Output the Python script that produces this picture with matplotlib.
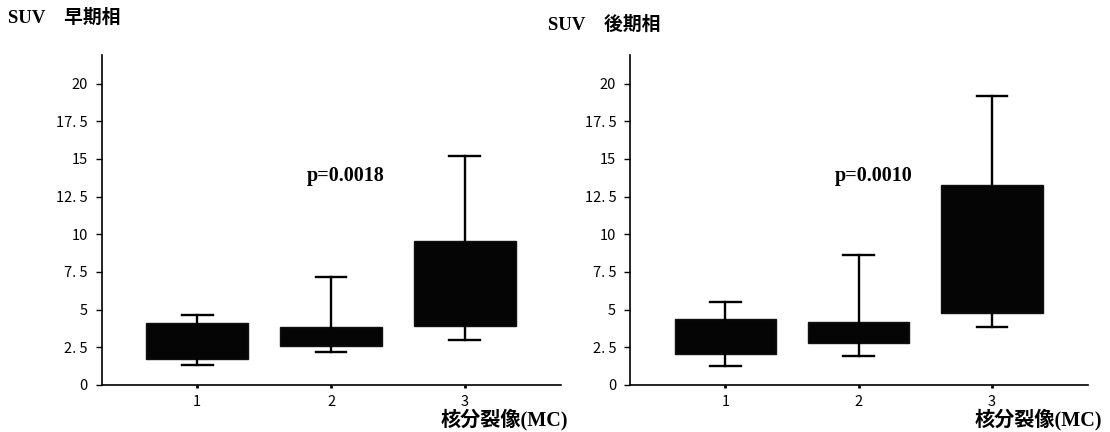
import matplotlib
matplotlib.use("Agg")
import matplotlib.pyplot as plt

# 核分裂像(MC) グループごとの SUV 箱ひげ図
groups = [1, 2, 3]

# 早期相
early_q1 = [1.72, 2.59, 3.93]
early_q3 = [4.11, 3.87, 9.57]
early_lo = [1.33, 2.17, 3.00]
early_hi = [4.64, 7.20, 15.20]

# 後期相
late_q1 = [2.04, 2.82, 4.77]
late_q3 = [4.39, 4.17, 13.26]
late_lo = [1.29, 1.95, 3.84]
late_hi = [5.50, 8.63, 19.16]

yticks = [0, 2.5, 5, 7.5, 10, 12.5, 15, 17.5, 20]
ytick_labels = ["0", "2. 5", "5", "7. 5", "10", "12. 5", "15", "17. 5", "20"]

titles = ["SUV　早期相", "SUV　後期相"]
p_texts = ["p=0.0018", "p=0.0010"]
xlabel = "核分裂像(MC)"

serif_jp = ["Liberation Serif", "Noto Sans CJK JP"]
gothic = ["Noto Sans CJK JP", "DejaVu Sans"]

fig = plt.figure(figsize=(11.1, 4.32), dpi=100)
ax1 = fig.add_axes([0.0916, 0.1088, 0.4138, 0.7639])
ax2 = fig.add_axes([0.5676, 0.1088, 0.4126, 0.7639])


def make_stats(q1, q3, lo, hi):
    stats = []
    for a, b, c, d in zip(q1, q3, lo, hi):
        stats.append({"q1": a, "q3": b, "med": a, "whislo": c, "whishi": d, "fliers": []})
    return stats


def draw_panel(ax, q1, q3, lo, hi, p_text):
    ax.bxp(make_stats(q1, q3, lo, hi), positions=groups, widths=0.76,
           patch_artist=True, showfliers=False, capwidths=0.23,
           boxprops=dict(facecolor="#050505", edgecolor="#111111", linewidth=1.0),
           whiskerprops=dict(color="black", linewidth=1.7),
           capprops=dict(color="black", linewidth=1.7),
           medianprops=dict(linewidth=0))
    ax.set_xlim(0.285, 3.72)
    ax.set_ylim(0, 21.9)
    ax.set_yticks(yticks)
    ax.set_yticklabels(ytick_labels, family=gothic, fontsize=10.5)
    ax.set_xticks(groups)
    ax.set_xticklabels([str(g) for g in groups], family=gothic, fontsize=10.5)
    ax.tick_params(axis="y", length=4, width=1, pad=6)
    ax.tick_params(axis="x", length=2, width=2, pad=5)
    for side in ["top", "right"]:
        ax.spines[side].set_visible(False)
    for side in ["left", "bottom"]:
        ax.spines[side].set_linewidth(1.2)
    ax.text(1.82, 13.9, p_text, family="Liberation Serif", fontweight="bold",
            fontsize=14.5, ha="left", va="center")


draw_panel(ax1, early_q1, early_q3, early_lo, early_hi, p_texts[0])
draw_panel(ax2, late_q1, late_q3, late_lo, late_hi, p_texts[1])

fig.text(8 / 1110, 1 - 18 / 432, titles[0], family=serif_jp, fontweight="bold",
         fontsize=13.5, ha="left", va="center")
fig.text(548 / 1110, 1 - 25 / 432, titles[1], family=serif_jp, fontweight="bold",
         fontsize=13.5, ha="left", va="center")

fig.text(568 / 1110, 1 - 420 / 432, xlabel, family=serif_jp, fontweight="bold",
         fontsize=14.5, ha="right", va="center")
fig.text(1102 / 1110, 1 - 420 / 432, xlabel, family=serif_jp, fontweight="bold",
         fontsize=14.5, ha="right", va="center")

fig.savefig("out.png", dpi=100)
